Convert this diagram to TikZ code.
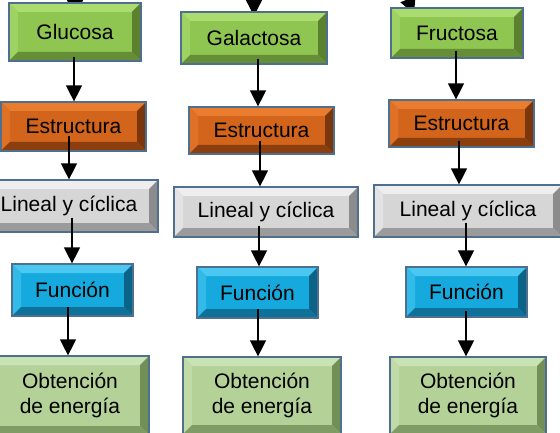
\documentclass[tikz,border=0pt]{standalone}
\usepackage{fontspec}
\setmainfont{Liberation Sans}
\usetikzlibrary{arrows.meta}

\definecolor{borde}{HTML}{4F6F8F}
\definecolor{verde}{HTML}{8FC652}
\definecolor{verdeC}{HTML}{ABDC70}
\definecolor{verdeO}{HTML}{5B8030}
\definecolor{naranja}{HTML}{D2641C}
\definecolor{naranjaC}{HTML}{E97C2E}
\definecolor{naranjaO}{HTML}{7A360C}
\definecolor{gris}{HTML}{D6D6D6}
\definecolor{grisC}{HTML}{EEEEEE}
\definecolor{grisO}{HTML}{8C8C8C}
\definecolor{celeste}{HTML}{16A9DD}
\definecolor{celesteC}{HTML}{4AC8F2}
\definecolor{celesteO}{HTML}{0B6388}
\definecolor{palido}{HTML}{B4D298}
\definecolor{palidoC}{HTML}{CAE3B4}
\definecolor{palidoO}{HTML}{728F58}

\tikzset{
  caja/.style n args={3}{draw=borde, line width=1.2pt, inner sep=0pt, align=center,
    font=\fontsize{21}{25}\selectfont,
    path picture={
      \coordinate (sw) at (path picture bounding box.south west);
      \coordinate (ne) at (path picture bounding box.north east);
      \fill[#1] (sw) rectangle (ne);
      \fill[#2] (sw |- ne) -- (ne) -- ([shift={(-9pt,-9pt)}]ne)
        -- ([shift={(9pt,-9pt)}]sw |- ne) -- cycle;
      \fill[#2!55!#1] (sw |- ne) -- (sw) -- ([shift={(9pt,9pt)}]sw)
        -- ([shift={(9pt,-9pt)}]sw |- ne) -- cycle;
      \fill[#3] (ne) -- (ne |- sw) -- ([shift={(-9pt,9pt)}]ne |- sw)
        -- ([shift={(-9pt,-9pt)}]ne) -- cycle;
      \fill[#3!80!#1] (sw) -- (ne |- sw) -- ([shift={(-9pt,9pt)}]ne |- sw)
        -- ([shift={(9pt,9pt)}]sw) -- cycle;
    }},
  azucar/.style={caja={verde}{verdeC}{verdeO}},
  estruc/.style={caja={naranja}{naranjaC}{naranjaO}},
  forma/.style={caja={gris}{grisC}{grisO}},
  funcion/.style={caja={celeste}{celesteC}{celesteO}},
  energia/.style={caja={palido}{palidoC}{palidoO}},
  flecha/.style={-{Triangle[width=16pt,length=16pt]}, line width=1.3pt}
}

\begin{document}
\begin{tikzpicture}[x=1pt,y=-1pt]
\useasboundingbox (0,0) rectangle (560,433);
\clip (0,0) rectangle (560,433);

% flechas que llegan desde arriba (quedan detras de las cajas)
\coordinate (a1) at (75,-30);
\coordinate (b1) at (75,16);
\coordinate (a2) at (254,-30);
\coordinate (b2) at (254,16);
\coordinate (a3) at (398,-25);
\coordinate (b3) at (414,14);
\draw[flecha] (a1) -- (b1);
\draw[flecha] (a2) -- (b2);
\draw[flecha] (a3) -- (b3);

% columna glucosa
\node[azucar, minimum width=132, minimum height=58] (g1) at (75,32) {Glucosa};
\node[estruc, minimum width=145, minimum height=49] (e1) at (73.5,126.5) {Estructura};
\node[forma, minimum width=178, minimum height=52] (l1) at (69,206) {Lineal y cíclica};
\node[funcion, minimum width=121, minimum height=52] (f1) at (72.5,290) {Función};
\node[energia, minimum width=158, minimum height=79] (o1) at (70,395.5) {Obtención\\de energía};

% columna galactosa
\node[azucar, minimum width=146, minimum height=52] (g2) at (254,38) {Galactosa};
\node[estruc, minimum width=145, minimum height=47] (e2) at (261.5,130.5) {Estructura};
\node[forma, minimum width=184, minimum height=50] (l2) at (266,212) {Lineal y cíclica};
\node[funcion, minimum width=121, minimum height=51] (f2) at (257.5,292.5) {Función};
\node[energia, minimum width=158, minimum height=77] (o2) at (262,395.5) {Obtención\\de energía};

% columna fructosa
\node[azucar, minimum width=132, minimum height=50] (g3) at (457,33) {Fructosa};
\node[estruc, minimum width=145, minimum height=47] (e3) at (461.5,123.5) {Estructura};
\node[forma, minimum width=188, minimum height=52] (l3) at (468,211) {Lineal y cíclica};
\node[funcion, minimum width=121, minimum height=50] (f3) at (466.5,292) {Función};
\node[energia, minimum width=156, minimum height=77] (o3) at (468,395.5) {Obtención\\de energía};

\draw[flecha] ([xshift=-1,yshift=5]g1.south) -- ([xshift=0.5]e1.north);
\draw[flecha] ([xshift=-4.5,yshift=16]e1.south) -- (l1.north);
\draw[flecha] ([xshift=3,yshift=15]l1.south) -- ([xshift=-0.5]f1.north);
\draw[flecha] ([xshift=-4.5,yshift=10]f1.south) -- ([xshift=-2]o1.north);

\draw[flecha] ([xshift=4,yshift=6]g2.south) -- ([xshift=-3.5]e2.north);
\draw[flecha] ([xshift=-1.5,yshift=14]e2.south) -- ([xshift=-6]l2.north);
\draw[flecha] ([xshift=-7,yshift=12]l2.south) -- ([xshift=1.5]f2.north);
\draw[flecha] ([xshift=0.5,yshift=10]f2.south) -- ([xshift=-4]o2.north);

\draw[flecha] ([xshift=-1,yshift=8]g3.south) -- ([xshift=-5.5]e3.north);
\draw[flecha] ([xshift=-2.5,yshift=7]e3.south) -- ([xshift=-9]l3.north);
\draw[flecha] ([xshift=-2,yshift=15]l3.south) -- ([xshift=-0.5]f3.north);
\draw[flecha] ([xshift=-0.5,yshift=7]f3.south) -- ([xshift=-2]o3.north);
\end{tikzpicture}
\end{document}
